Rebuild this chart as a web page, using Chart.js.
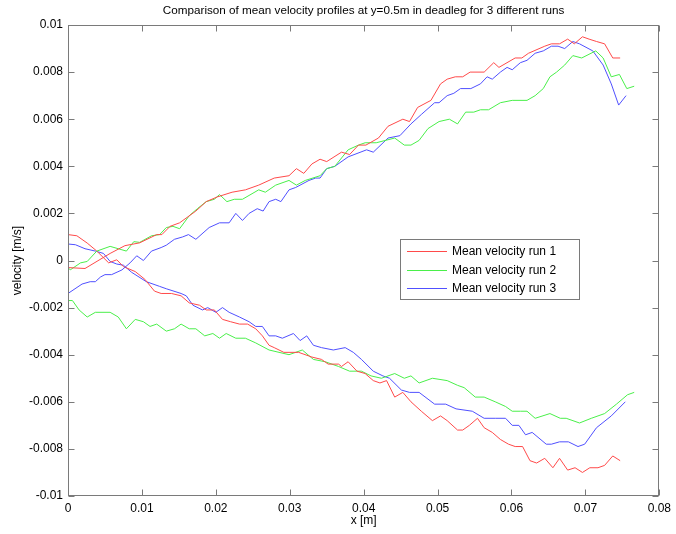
<!DOCTYPE html>
<html>
<head>
<meta charset="utf-8">
<script src="https://cdn.jsdelivr.net/npm/chart.js@4/dist/chart.umd.min.js"></script>
<style>
  html, body { margin: 0; padding: 0; background: #fff; }
  #wrap { width: 676px; height: 534px; }
</style>
</head>
<body>
<div id="wrap"><canvas id="c" width="676" height="534"></canvas></div>
<script>
// ---- Data (x [m], velocity [m/s]) ----
const chartTitle = "Comparison of mean velocity profiles at y=0.5m in deadleg for 3 different runs";
const xTitle = "x [m]";
const yTitle = "velocity [m/s]";
const runLabels = ["Mean velocity run 1", "Mean velocity run 2", "Mean velocity run 3"];
const xTicks = [0, 0.01, 0.02, 0.03, 0.04, 0.05, 0.06, 0.07, 0.08];
const yTicks = [-0.01, -0.008, -0.006, -0.004, -0.002, 0, 0.002, 0.004, 0.006, 0.008, 0.01];

// Run 1 (red) upper and lower profiles
const run1Upper = [[0,-0.0003],[0.0023,-0.00034],[0.0057,0.0003],[0.0077,0.00063],[0.0097,0.00075],[0.012,0.0011],[0.0127,0.0011],[0.0138,0.00145],[0.0151,0.0016],[0.0173,0.0021],[0.0187,0.0025],[0.0202,0.0027],[0.0222,0.0029],[0.024,0.003],[0.0258,0.0032],[0.0279,0.0035],[0.0299,0.0036],[0.0309,0.0039],[0.0319,0.0037],[0.033,0.0041],[0.0341,0.0043],[0.035,0.0042],[0.037,0.0046],[0.0381,0.0045],[0.0393,0.0049],[0.0403,0.0049],[0.042,0.0052],[0.0433,0.0057],[0.0453,0.006],[0.0462,0.0059],[0.0473,0.0065],[0.0491,0.0068],[0.0504,0.0075],[0.0513,0.0077],[0.0524,0.0078],[0.0534,0.0078],[0.0544,0.008],[0.0563,0.008],[0.0576,0.0084],[0.0583,0.0082],[0.0605,0.0086],[0.0614,0.0086],[0.0623,0.0088],[0.0645,0.0091],[0.0654,0.0092],[0.0665,0.0092],[0.0676,0.0094],[0.0685,0.0092],[0.0696,0.0095],[0.0705,0.0094],[0.0715,0.0093],[0.0726,0.0092],[0.0737,0.0086],[0.0747,0.0086]];
const run1Lower = [[0,0.0011],[0.0012,0.00105],[0.0026,0.00074],[0.0039,0.0004],[0.0055,-0.0001],[0.0066,0.00003],[0.0075,-0.00026],[0.0091,-0.00047],[0.0104,-0.0008],[0.0117,-0.0013],[0.0126,-0.0014],[0.014,-0.0014],[0.0153,-0.0015],[0.0164,-0.0018],[0.0178,-0.0019],[0.0187,-0.0021],[0.0198,-0.0021],[0.0209,-0.0025],[0.022,-0.0026],[0.0232,-0.0027],[0.0243,-0.0027],[0.0254,-0.0029],[0.0263,-0.0032],[0.0272,-0.0036],[0.0279,-0.0037],[0.0292,-0.0039],[0.0312,-0.0039],[0.033,-0.0041],[0.0343,-0.0042],[0.0352,-0.0044],[0.0366,-0.0044],[0.037,-0.0045],[0.0379,-0.0043],[0.0391,-0.0047],[0.0402,-0.0048],[0.0413,-0.0051],[0.0422,-0.0052],[0.0431,-0.0051],[0.0442,-0.0058],[0.0453,-0.0056],[0.0464,-0.006],[0.0478,-0.0064],[0.0493,-0.0068],[0.0504,-0.0066],[0.0513,-0.0068],[0.0527,-0.0072],[0.0534,-0.0072],[0.0543,-0.007],[0.0554,-0.0067],[0.0563,-0.0071],[0.0574,-0.0073],[0.0585,-0.0076],[0.0596,-0.0078],[0.0605,-0.0079],[0.0615,-0.0079],[0.0625,-0.0085],[0.0634,-0.0086],[0.0645,-0.0084],[0.0656,-0.0088],[0.0665,-0.0084],[0.0676,-0.0089],[0.0686,-0.0088],[0.0696,-0.009],[0.0706,-0.0088],[0.0717,-0.0088],[0.0726,-0.0087],[0.0737,-0.0083],[0.0747,-0.0085]];

// Run 2 (green)
const run2Upper = [[0,-0.0003],[0.0003,-0.0004],[0.0017,-0.0001],[0.0026,-0.00004],[0.0039,0.0004],[0.0057,0.0006],[0.0068,0.0005],[0.0079,0.0004],[0.0089,0.0008],[0.0097,0.00077],[0.0113,0.00105],[0.0124,0.0011],[0.0133,0.0014],[0.0142,0.00145],[0.0151,0.00135],[0.0164,0.0019],[0.0175,0.0022],[0.0187,0.0025],[0.0198,0.0026],[0.0205,0.0028],[0.0215,0.0025],[0.0225,0.0026],[0.0236,0.0026],[0.0258,0.003],[0.0267,0.0029],[0.0281,0.0032],[0.0299,0.0034],[0.0309,0.0032],[0.0321,0.0034],[0.0341,0.0036],[0.035,0.0039],[0.0361,0.004],[0.0379,0.0047],[0.0393,0.0049],[0.0402,0.005],[0.0417,0.005],[0.0442,0.0052],[0.0455,0.0049],[0.0464,0.0049],[0.0475,0.0051],[0.0487,0.0056],[0.0502,0.0059],[0.0516,0.006],[0.0527,0.0058],[0.0538,0.0063],[0.0549,0.0063],[0.0558,0.0064],[0.0569,0.0064],[0.0585,0.0067],[0.0601,0.0068],[0.0621,0.0068],[0.0632,0.007],[0.0643,0.0073],[0.0652,0.0078],[0.0661,0.008],[0.0672,0.0083],[0.0683,0.0087],[0.0695,0.0086],[0.0714,0.0089],[0.0724,0.0086],[0.0735,0.0078],[0.0746,0.0079],[0.0756,0.0073],[0.0766,0.0074]];
const run2Lower = [[0,-0.0017],[0.0006,-0.0017],[0.0015,-0.0021],[0.0026,-0.0024],[0.0037,-0.0022],[0.0057,-0.0022],[0.0068,-0.0024],[0.0079,-0.0029],[0.0091,-0.0025],[0.0102,-0.0026],[0.0111,-0.0028],[0.012,-0.0027],[0.0133,-0.003],[0.0144,-0.0029],[0.0153,-0.0027],[0.0164,-0.0029],[0.0173,-0.0029],[0.0185,-0.0032],[0.0196,-0.0031],[0.0205,-0.0033],[0.0214,-0.0031],[0.0227,-0.0033],[0.024,-0.0033],[0.0254,-0.0035],[0.0272,-0.0038],[0.0299,-0.004],[0.0317,-0.0038],[0.0332,-0.0042],[0.0348,-0.0043],[0.0366,-0.0045],[0.0381,-0.0047],[0.0397,-0.0047],[0.041,-0.0049],[0.0424,-0.005],[0.0442,-0.0048],[0.0455,-0.005],[0.0464,-0.0049],[0.0475,-0.0052],[0.0493,-0.005],[0.0513,-0.0051],[0.0527,-0.0053],[0.0536,-0.0054],[0.0551,-0.0058],[0.0563,-0.0058],[0.0578,-0.006],[0.0592,-0.0062],[0.0601,-0.0064],[0.0612,-0.0064],[0.0621,-0.0064],[0.0632,-0.0067],[0.0652,-0.0065],[0.0666,-0.0067],[0.0674,-0.0067],[0.0692,-0.0069],[0.0708,-0.0067],[0.0726,-0.0065],[0.0742,-0.0061],[0.0757,-0.0057],[0.0766,-0.0056]];

// Run 3 (blue)
const run3Upper = [[0,-0.0014],[0.0019,-0.001],[0.003,-0.0009],[0.0037,-0.0009],[0.0044,-0.0007],[0.005,-0.0006],[0.0059,-0.0006],[0.0073,-0.0004],[0.0084,-0.0001],[0.0093,0.0002],[0.0102,0.0],[0.0113,0.0004],[0.0126,0.00055],[0.0133,0.00065],[0.0144,0.0009],[0.0155,0.001],[0.0163,0.0011],[0.0173,0.0009],[0.0191,0.0014],[0.0205,0.0016],[0.0218,0.0016],[0.0227,0.002],[0.0236,0.0017],[0.0245,0.002],[0.0256,0.0022],[0.0264,0.0021],[0.0272,0.0025],[0.0281,0.0026],[0.0288,0.0025],[0.0299,0.003],[0.0308,0.0031],[0.0326,0.0034],[0.0335,0.0035],[0.0341,0.0035],[0.035,0.0039],[0.0361,0.004],[0.0379,0.0044],[0.0404,0.0047],[0.0413,0.0046],[0.0433,0.0052],[0.0449,0.0053],[0.0464,0.0058],[0.0478,0.0062],[0.0496,0.0067],[0.0502,0.0067],[0.0513,0.007],[0.0522,0.0071],[0.0531,0.0073],[0.0545,0.0073],[0.0558,0.0075],[0.0567,0.0078],[0.0574,0.0077],[0.0585,0.008],[0.0594,0.0082],[0.0601,0.0081],[0.0612,0.0084],[0.0621,0.0085],[0.0632,0.0088],[0.0643,0.0089],[0.0654,0.0091],[0.0663,0.0091],[0.0672,0.009],[0.0683,0.0093],[0.0692,0.0092],[0.071,0.0089],[0.0724,0.0083],[0.0735,0.0075],[0.0745,0.0066],[0.0755,0.007]];
const run3Lower = [[0,0.0007],[0.001,0.00067],[0.0023,0.0005],[0.0037,0.0004],[0.0048,0.0003],[0.0057,-0.00004],[0.0066,-0.00015],[0.0075,-0.0002],[0.0086,-0.0005],[0.0106,-0.0009],[0.0124,-0.0011],[0.0133,-0.0012],[0.0153,-0.0014],[0.016,-0.0015],[0.0169,-0.0019],[0.0182,-0.0021],[0.0189,-0.002],[0.02,-0.0022],[0.0209,-0.002],[0.0218,-0.0022],[0.0232,-0.0024],[0.0245,-0.0026],[0.0254,-0.0028],[0.0263,-0.0028],[0.0272,-0.0032],[0.0281,-0.0032],[0.029,-0.0033],[0.0305,-0.0031],[0.0314,-0.0034],[0.0323,-0.0032],[0.0332,-0.0036],[0.0343,-0.0037],[0.0359,-0.0038],[0.0375,-0.0037],[0.0386,-0.0039],[0.0397,-0.0042],[0.0413,-0.0047],[0.0426,-0.0049],[0.0435,-0.005],[0.0451,-0.0055],[0.0462,-0.0056],[0.0475,-0.0056],[0.0496,-0.0061],[0.0511,-0.0061],[0.0525,-0.0063],[0.0547,-0.0064],[0.0563,-0.0067],[0.0578,-0.0067],[0.0592,-0.0067],[0.0601,-0.007],[0.061,-0.007],[0.0619,-0.0074],[0.0628,-0.0073],[0.0647,-0.0078],[0.0654,-0.0078],[0.0665,-0.0077],[0.0677,-0.0077],[0.069,-0.0079],[0.0699,-0.0078],[0.0715,-0.0071],[0.0735,-0.0066],[0.0754,-0.006]];

const runColors = ["#ff4a4a", "#4aef4a", "#5050ff"];
const FONT = '"Liberation Sans", Arial, Helvetica, sans-serif';

function toPts(arr) { return arr.map(p => ({ x: p[0], y: p[1] })); }
function ds(label, arr, color, legend) {
  return { label, data: toPts(arr), borderColor: color, backgroundColor: color,
           borderWidth: 1, pointRadius: 0, showLine: true, tension: 0, inLegend: legend };
}

const datasets = [
  ds(runLabels[0], run1Upper, runColors[0], true),
  ds(runLabels[1], run2Upper, runColors[1], true),
  ds(runLabels[2], run3Upper, runColors[2], true),
  ds(runLabels[0], run1Lower, runColors[0], false),
  ds(runLabels[1], run2Lower, runColors[1], false),
  ds(runLabels[2], run3Lower, runColors[2], false)
];

function fmt(v) { return String(Math.round(v * 10000) / 10000); }

const framePlugin = {
  id: 'matlabFrame',
  afterDraw(chart) {
    const ctx = chart.ctx;
    const a = chart.chartArea;
    const xs = chart.scales.x, ys = chart.scales.y;
    ctx.save();
    // axes box
    ctx.strokeStyle = '#7a7a7a';
    ctx.lineWidth = 1;
    const L = Math.round(a.left) + 0.5, R = Math.round(a.right) - 0.5;
    const T = Math.round(a.top) + 0.5, B = Math.round(a.bottom) - 0.5;
    ctx.strokeRect(L, T, R - L, B - T);
    // inward tick marks on all sides
    const tl = 6;
    ctx.beginPath();
    xTicks.forEach(v => {
      const px = Math.round(xs.getPixelForValue(v)) + 0.5;
      ctx.moveTo(px, B); ctx.lineTo(px, B - tl);
      ctx.moveTo(px, T); ctx.lineTo(px, T + tl);
    });
    yTicks.forEach(v => {
      const py = Math.round(ys.getPixelForValue(v)) + 0.5;
      ctx.moveTo(L, py); ctx.lineTo(L + tl, py);
      ctx.moveTo(R, py); ctx.lineTo(R - tl, py);
    });
    ctx.stroke();

    // title & axis titles
    ctx.fillStyle = '#000';
    ctx.font = '11.7px ' + FONT;
    ctx.textAlign = 'center';
    ctx.textBaseline = 'middle';
    ctx.fillText(chartTitle, (a.left + a.right) / 2, 11);
    ctx.font = '12px ' + FONT;
    ctx.fillText(xTitle, (a.left + a.right) / 2, 521);
    ctx.save();
    ctx.translate(18, (a.top + a.bottom) / 2);
    ctx.rotate(-Math.PI / 2);
    ctx.fillText(yTitle, 0, 0);
    ctx.restore();

    // legend
    const items = chart.data.datasets.filter(d => d.inLegend);
    const bx = 400.5, by = 239.5, bw = 179, bh = 60;
    ctx.fillStyle = '#fff';
    ctx.fillRect(bx, by, bw, bh);
    ctx.strokeStyle = '#7a7a7a';
    ctx.strokeRect(bx, by, bw, bh);
    ctx.textAlign = 'left';
    items.forEach((d, i) => {
      const yy = Math.round(251 + i * 18.5) + 0.5;
      ctx.strokeStyle = d.borderColor;
      ctx.beginPath();
      ctx.moveTo(407, yy); ctx.lineTo(447, yy);
      ctx.stroke();
      ctx.fillStyle = '#000';
      ctx.fillText(d.label, 452, yy);
    });
    ctx.restore();
  }
};

new Chart(document.getElementById('c'), {
  type: 'scatter',
  data: { datasets },
  options: {
    responsive: false,
    animation: false,
    layout: { padding: { top: 25, right: 12, bottom: 0, left: 0 } },
    plugins: { legend: { display: false }, tooltip: { enabled: false }, title: { display: false } },
    scales: {
      x: {
        type: 'linear', min: 0, max: 0.08,
        afterFit: s => { s.height = 38; },
        afterBuildTicks: s => { s.ticks = xTicks.map(v => ({ value: v })); },
        grid: { display: false, drawTicks: false },
        border: { display: false },
        ticks: { color: '#000', font: { family: FONT, size: 12 }, padding: 5, maxRotation: 0, autoSkip: false,
                 callback: v => fmt(v) }
      },
      y: {
        type: 'linear', min: -0.01, max: 0.01,
        afterFit: s => { s.width = 68; },
        afterBuildTicks: s => { s.ticks = yTicks.map(v => ({ value: v })); },
        grid: { display: false, drawTicks: false },
        border: { display: false },
        ticks: { color: '#000', font: { family: FONT, size: 12 }, padding: 5, autoSkip: false,
                 callback: v => fmt(v) }
      }
    }
  },
  plugins: [framePlugin]
});
</script>
</body>
</html>
